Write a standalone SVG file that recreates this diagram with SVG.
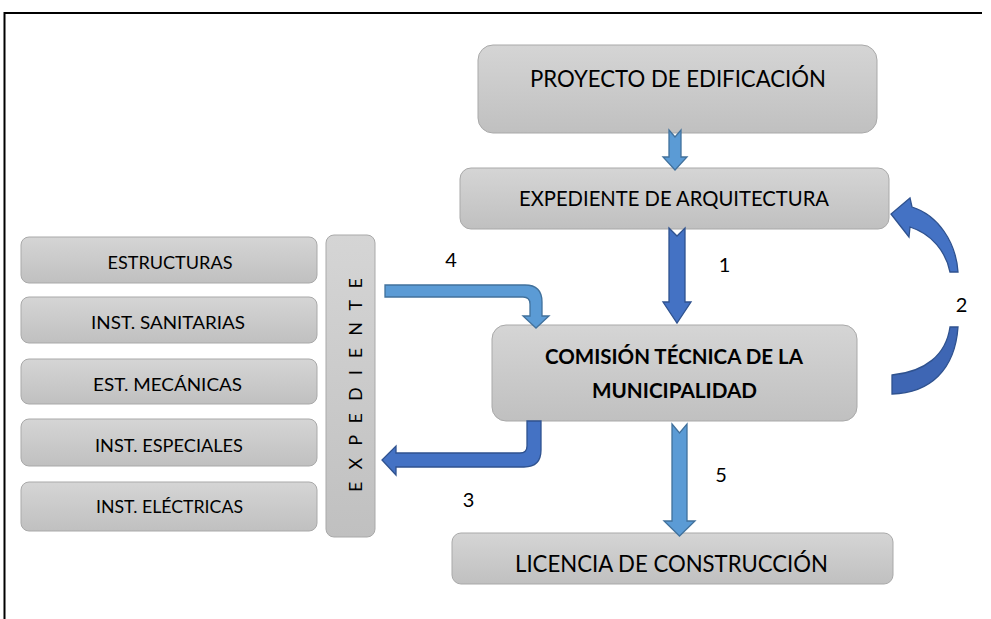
<svg xmlns="http://www.w3.org/2000/svg" width="991" height="619" viewBox="0 0 991 619">
<style>
.box{fill:url(#g);stroke:#A9A9A9;stroke-width:1}
.t{font-family:Lato,'Liberation Sans',sans-serif;fill:#000;text-anchor:middle}
.lb{fill:#5B9BD5;stroke:#41719C;stroke-width:1.3}
.db{fill:#4472C4;stroke:#2F528F;stroke-width:1.3}
.db2{fill:#3E66B4;stroke:#2F528F;stroke-width:1.3}
</style>
<defs>
<linearGradient id="g" x1="0" y1="0" x2="0" y2="1">
<stop offset="0" stop-color="#D5D5D5"/>
<stop offset="1" stop-color="#C0C0C0"/>
</linearGradient>
</defs>
<rect width="991" height="619" fill="#fff"/>
<path d="M4.5,619 V13 H982" fill="none" stroke="#000" stroke-width="2"/>

<g id="proyecto">
<rect class="box" x="478" y="45" width="399" height="88" rx="15"/>
<text class="t" x="678" y="87" font-size="24" textLength="296" lengthAdjust="spacingAndGlyphs">PROYECTO DE EDIFICACIÓN</text>
</g>
<g id="exp-arq">
<rect class="box" x="460" y="168" width="429" height="61" rx="11"/>
<text class="t" x="674" y="206" font-size="21" textLength="310" lengthAdjust="spacingAndGlyphs">EXPEDIENTE DE ARQUITECTURA</text>
</g>
<g id="comision">
<rect class="box" x="492" y="325" width="365" height="96" rx="14"/>
<text class="t" x="674" y="364" font-size="20" font-weight="bold" textLength="258" lengthAdjust="spacingAndGlyphs">COMISIÓN TÉCNICA DE LA</text>
<text class="t" x="674.5" y="398" font-size="20" font-weight="bold" textLength="165" lengthAdjust="spacingAndGlyphs">MUNICIPALIDAD</text>
</g>
<g id="licencia">
<rect class="box" x="452" y="533" width="441" height="51" rx="9"/>
<text class="t" x="671.5" y="572" font-size="23" textLength="313" lengthAdjust="spacingAndGlyphs">LICENCIA DE CONSTRUCCIÓN</text>
</g>
<g id="estructuras">
<rect class="box" x="21" y="237" width="296" height="46" rx="8"/>
<text class="t" x="170" y="269" font-size="17" textLength="125" lengthAdjust="spacingAndGlyphs">ESTRUCTURAS</text>
</g>
<g id="sanitarias">
<rect class="box" x="21" y="297" width="296" height="46" rx="8"/>
<text class="t" x="168" y="329" font-size="17" textLength="154" lengthAdjust="spacingAndGlyphs">INST. SANITARIAS</text>
</g>
<g id="mecanicas">
<rect class="box" x="21" y="359" width="296" height="45" rx="8"/>
<text class="t" x="167.5" y="391" font-size="17" textLength="149" lengthAdjust="spacingAndGlyphs">EST. MECÁNICAS</text>
</g>
<g id="especiales">
<rect class="box" x="21" y="419" width="296" height="47" rx="8"/>
<text class="t" x="169" y="452" font-size="17" textLength="148" lengthAdjust="spacingAndGlyphs">INST. ESPECIALES</text>
</g>
<g id="electricas">
<rect class="box" x="21" y="482" width="296" height="49" rx="8"/>
<text class="t" x="169.5" y="513" font-size="17" textLength="147" lengthAdjust="spacingAndGlyphs">INST. ELÉCTRICAS</text>
</g>
<g id="expediente">
<rect class="box" x="326" y="235" width="49" height="302" rx="8"/>
<text class="t" transform="translate(362,385) rotate(-90)" font-size="18" textLength="214" lengthAdjust="spacing">E X P E D I E N T E</text>
</g>

<g id="connectors">
<path class="lb" d="M669,130 L675,137 L681,130 L681,157 L687,157 L675,170 L663,157 L669,157 Z"/>
<path class="db" d="M669,228 L677,236 L685,228 L685,302 L691,302 L677,323 L663,302 L669,302 Z"/>
<path class="lb" d="M672,424 L679.5,433 L687,424 L687,521 L695,521 L679.5,536 L664,521 L672,521 Z"/>
<path class="lb" d="M385,285 L525,285 Q542,285 542,302 L542,316 L549,316 L536,328 L523,316 L530,316 L530,304 Q530,297 523,297 L385,297 Z"/>
<path class="db" d="M527,421 L541,421 L541,450 Q541,467 524,467 L396,467 L396,475 L382,460 L396,446 L396,453 L520,453 Q527,453 527,446 Z"/>
<path class="db" d="M912,207 C938,215 956,242 958,272 L950,272 C946,252 932,234 910,227 L909,237 L891,214 L910,198 Z"/>
<path class="db2" d="M958,327 C955,370 930,393 892,394 L892,375 C925,372 946,355 950,327 Z"/>
<text class="t" x="451" y="267" font-size="20">4</text>
<text class="t" x="724.5" y="272" font-size="20">1</text>
<text class="t" x="961.5" y="312" font-size="20">2</text>
<text class="t" x="468.5" y="507" font-size="20">3</text>
<text class="t" x="721" y="482" font-size="20">5</text>
</g>
</svg>
